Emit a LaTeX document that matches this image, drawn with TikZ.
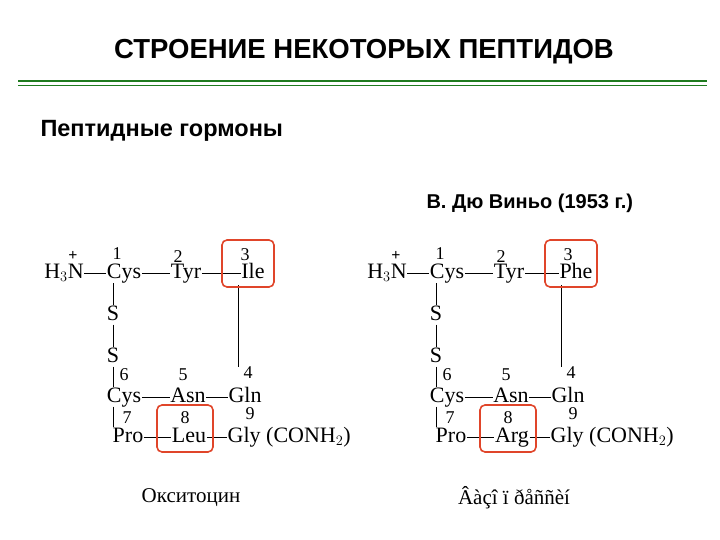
\documentclass[tikz,border=0pt]{standalone}
\usepackage{fontspec}
\setmainfont{Liberation Serif}
\newfontfamily\sans{Liberation Sans}
\definecolor{tgreen}{HTML}{1F7A1F}
\definecolor{boxred}{HTML}{E0452A}
\begin{document}
\begin{tikzpicture}[x=1pt,y=-1pt,
  aa/.style={font=\fontsize{22}{22}\selectfont,inner sep=0.5pt,text height=14pt,text depth=4pt},
  num/.style={font=\fontsize{18}{18}\selectfont,inner sep=0pt},
  bond/.style={line width=0.7pt},
  hl/.style={draw=boxred,line width=1.6pt,rounded corners=5pt}]
\useasboundingbox (0,0) rectangle (720,540);
\node[font=\sans\bfseries\fontsize{27.5}{28}\selectfont, text=black] (title) at (364,52) {СТРОЕНИЕ НЕКОТОРЫХ ПЕПТИДОВ};
\coordinate (l1a) at (18,81); \coordinate (l1b) at (707,81);
\coordinate (l2a) at (18,85); \coordinate (l2b) at (707,85);
\draw[tgreen,line width=1.6pt] (l1a) -- (l1b);
\draw[tgreen,line width=0.8pt] (l2a) -- (l2b);
\node[font=\sans\bfseries\fontsize{23.5}{24}\selectfont,anchor=west] (sub) at (37,131) {Пептидные гормоны};
\node[font=\sans\bfseries\fontsize{20}{20}\selectfont,anchor=west] (auth) at (423,203) {В. Дю Виньо (1953 г.)};

\foreach \dx/\p/\a/\b/\nm/\lab in {0/L/Ile/Leu/ox/Окситоцин, 323/R/Phe/Arg/vp/Âàçî ï ðåññèí}{
\begin{scope}[xshift=\dx]
\node[aa] (H\p) at (64,273) {H$_3$N};
\node[font=\fontsize{16}{16}\selectfont\bfseries,inner sep=0pt] (plus\p) at (73,256) {+};
\node[aa] (C1\p) at (124,273) {Cys};
\node[aa] (T\p) at (186,273) {Tyr};
\node[aa] (I\p) at (\ifx\p L 244\else 253\fi,273) {\a};
\node[aa] (S1\p) at (113,315) {S};
\node[aa] (S2\p) at (113,357) {S};
\node[aa] (C6\p) at (124,397) {Cys};
\node[aa] (N\p) at (188,397) {Asn};
\node[aa] (Q\p) at (245,397) {Gln};
\node[aa] (P\p) at (128,437) {Pro};
\node[aa] (E\p) at (\ifx\p L 187\else 189\fi,437) {\b};
\node[aa,anchor=west] (G\p) at (227,437) {Gly (CONH$_2$)};
\node[num] (n1\p) at (117,254) {1};
\node[num] (n2\p) at (178,257) {2};
\node[num] (n3\p) at (\ifx\p L 240\else 245\fi,255) {3};
\node[num] (n4\p) at (248,373) {4};
\node[num] (n5\p) at (183,375) {5};
\node[num] (n6\p) at (124,375) {6};
\node[num] (n7\p) at (127,418) {7};
\node[num] (n8\p) at (185,418) {8};
\node[num] (n9\p) at (250,414) {9};
\draw[bond] (H\p) -- (C1\p);
\draw[bond] (C1\p) -- (T\p);
\draw[bond] (T\p) -- (I\p);
\draw[bond] (S1\p.north) -- (S1\p.north |- C1\p.south);
\draw[bond] (S1\p) -- (S2\p);
\draw[bond] (S2\p.south) -- (S2\p.south |- C6\p.north);
\draw[bond] (C6\p) -- (N\p);
\draw[bond] (N\p) -- (Q\p);
\draw[bond] (S2\p.south |- C6\p.south) -- (S2\p.south |- P\p.north);
\draw[bond] (P\p) -- (E\p);
\draw[bond] (E\p) -- (G\p);
\coordinate (v\p) at (238,285);
\draw[bond] (v\p) -- (v\p |- n4\p.north);
\node[hl,minimum width=52,minimum height=47] (box3\p) at (\ifx\p L 244\else 248\fi,263.5) {};
\node[hl,minimum width=56,minimum height=47] (box8\p) at (185,428.5) {};
\node[font=\fontsize{21}{21}\selectfont] (cap\p) at (\ifx\p L 197\else 191\fi,498) {\lab};
\end{scope}}
\end{tikzpicture}
\end{document}
